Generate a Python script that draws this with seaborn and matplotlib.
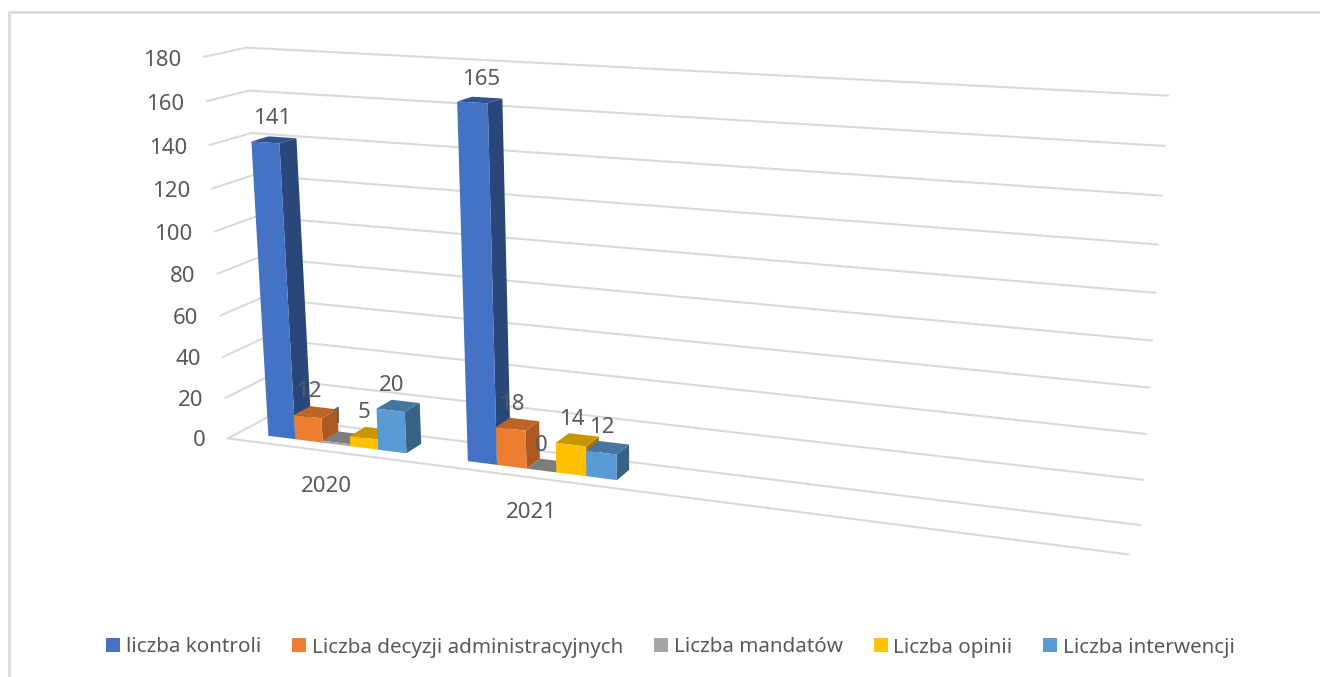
import numpy as np
import pandas as pd
import seaborn as sns
import matplotlib
matplotlib.use("Agg")
import matplotlib.pyplot as plt
import matplotlib.transforms as mtransforms
from matplotlib.patches import Polygon, Rectangle
from matplotlib.colors import to_rgb

# ---- data ----
years = ["2020", "2021"]
series = ["liczba kontroli", "Liczba decyzji administracyjnych", "Liczba mandatów",
          "Liczba opinii", "Liczba interwencji"]
liczba_kontroli = [141, 165]
liczba_decyzji = [12, 18]
liczba_mandatow = [1, 0]
liczba_opinii = [5, 14]
liczba_interwencji = [20, 12]
y_ticks = [0, 20, 40, 60, 80, 100, 120, 140, 160, 180]
colors = ["#4472C4", "#ED7D31", "#A5A5A5", "#FFC000", "#5B9BD5"]
side_shade = [0.62, 0.72, 0.62, 0.62, 0.63]
top_shade = [0.72, 0.80, 0.76, 0.78, 0.76]

W, H = 1320, 677
TEXT = "#595959"
GRID = "#D9D9D9"
Z0, Z1 = 0.29, 0.71      # bar front / back inside the floor depth
XL, XR = -0.5, 3.5       # category range

# ---- camera: world (category, value, depth) -> image pixel, least-squares fit ----
camera_world = np.array([
    (-.5, 0, 0), (-.5, 180, 0), (3.5, 0, 0), (-.5, 0, 1), (-.5, 180, 1), (3.5, 0, 1), (3.5, 180, 1),
    (-.35, 141, Z0), (-.21, 141, Z0), (-.35, 0, Z0), (-.21, 0, Z0), (-.07, 0, Z0),
    (-.07, 12, Z0), (.35, 20, Z0), (.35, 0, Z0), (.65, 165, Z0), (.79, 165, Z0),
    (.65, 0, Z0), (.93, 0, Z0), (1.35, 0, Z0), (1.35, 12, Z0),
    (-.21, 141, Z1), (-.07, 12, Z1), (-.07, 0, Z1), (.35, 20, Z1), (.35, 0, Z1),
    (.79, 165, Z1), (1.35, 12, Z1), (1.35, 0, Z1)], float)
camera_image = np.array([
    (227, 439), (202, 57), (1128, 556), (268, 418), (247, 46.5), (1141, 524), (1168, 96),
    (252, 142), (280, 143), (268, 436), (296, 439), (323, 442),
    (323, 417), (406, 413), (406, 453), (458, 102), (488, 103),
    (468, 461), (527, 468), (617, 479), (617, 453),
    (296, 138), (338, 412), (338, 432), (419, 403), (420, 445),
    (502, 99), (628, 445), (628, 470)], float)


def fit_camera(world, image):
    s = np.array([1.0, 0.01, 1.0])
    rows = []
    for (a, b, c), (u, v) in zip(world * s, image / 1000.0):
        rows.append([a, b, c, 1, 0, 0, 0, 0, -u * a, -u * b, -u * c, -u])
        rows.append([0, 0, 0, 0, a, b, c, 1, -v * a, -v * b, -v * c, -v])
    p = np.linalg.svd(np.array(rows))[2][-1].reshape(3, 4)
    return p


CAM = fit_camera(camera_world, camera_image)


def project(x, v, z):
    x, v, z = np.asarray(x, float), np.asarray(v, float), np.broadcast_to(z, np.shape(x))
    q = CAM @ np.vstack([x, v * 0.01, z, np.ones_like(x)])
    return np.column_stack([1000 * q[0] / q[2], H - 1000 * q[1] / q[2]])


class Plane(mtransforms.Transform):
    """Maps (category position, value) at a given depth to display pixels."""
    input_dims = output_dims = 2
    is_separable = False
    has_inverse = False

    def __init__(self, z):
        super().__init__()
        self.z = z

    def transform_non_affine(self, values):
        values = np.asarray(values, float)
        return project(values[:, 0], values[:, 1], self.z)


# ---- figure ----
sns.set_theme(style="white")
plt.rcParams["font.family"] = ["Noto Sans", "DejaVu Sans"]
fig = plt.figure(figsize=(W / 100, H / 100), dpi=100)
ax = fig.add_axes([0, 0, 1, 1])

df = pd.DataFrame({
    "rok": years * len(series),
    "seria": np.repeat(series, len(years)),
    "wartosc": liczba_kontroli + liczba_decyzji + liczba_mandatow + liczba_opinii + liczba_interwencji,
})
sns.barplot(data=df, x="rok", y="wartosc", hue="seria", hue_order=series, order=years + ["", " "],
            palette=colors, saturation=1, width=0.7, gap=0, errorbar=None, ax=ax, linewidth=0)
ax.set_xlim(XL, XR)
ax.set_ylim(0, 180)
ax.set_axis_off()

front, back = Plane(Z0), Plane(Z1)
wall_front, wall_back = Plane(0), Plane(1)
LABEL_SIZE = 16

# gridlines: side wall + back wall
for t in y_ticks:
    ax.plot([XL, XR], [t, t], transform=wall_back, color=GRID, lw=1.5, zorder=1, clip_on=False)
    px = np.vstack([project([XL], [t], 0), project([XL], [t], 1)])
    ax.plot(px[:, 0], px[:, 1], transform=mtransforms.IdentityTransform(), color=GRID, lw=1.5,
            zorder=1, clip_on=False)
    ax.annotate(str(t), xy=(XL, t), xycoords=wall_front, xytext=(-22, -2 - t * 0.01),
                textcoords="offset pixels",
                ha="right", va="center", fontsize=LABEL_SIZE, color=TEXT, zorder=50)
ax.plot([XL, XR], [0, 0], transform=wall_front, color=GRID, lw=1.5, zorder=1, clip_on=False)

# bars: seaborn's rectangles are put on the front plane, sides and tops follow them
bars = [(r, i) for i, cont in enumerate(ax.containers) for r in cont]
bars.sort(key=lambda b: b[0].get_x())
for k, (r, i) in enumerate(bars):
    x0, x1, h = r.get_x(), r.get_x() + r.get_width(), r.get_height()
    rgb = np.array(to_rgb(colors[i]))
    side = np.vstack([project([x1, x1], [0, h], Z0), project([x1, x1], [h, 0], Z1)])
    top = np.vstack([project([x0, x1], [h, h], Z0), project([x1, x0], [h, h], Z1)])
    ax.add_patch(Polygon(side, closed=True, transform=mtransforms.IdentityTransform(),
                         fc=rgb * side_shade[i], ec="none", zorder=10 + k, clip_on=False))
    ax.add_patch(Polygon(top, closed=True, transform=mtransforms.IdentityTransform(),
                         fc=rgb * top_shade[i], ec="none", zorder=10 + k, clip_on=False))
    r.set_transform(front)
    r.set_clip_on(False)
    r.set_zorder(10.5 + k)
    ax.annotate(f"{h:.0f}", xy=(x0 + r.get_width() / 2, h), xycoords=front,
                xytext=(h * 0.05, 25 - h * 0.01), textcoords="offset pixels",
                ha="center", va="center", fontsize=LABEL_SIZE, color=TEXT, zorder=60)

# category labels
for i, y in enumerate(years):
    ax.annotate(y, xy=(i, 0), xycoords=front, xytext=(-10.5, -42), textcoords="offset pixels",
                ha="center", va="center", fontsize=LABEL_SIZE, color=TEXT, zorder=50)

# legend
sns.move_legend(ax, "center", bbox_to_anchor=(670.5 / W, 1 - 647.5 / H), ncol=5, title=None, frameon=False,
                fontsize=14.85, handlelength=0.68, handleheight=0.68, handletextpad=0.28,
                columnspacing=1.5, labelcolor=TEXT, borderpad=0)

# outer frame of the pasted picture
fig.add_artist(Rectangle((8.5 / W, -0.1), 1.1, 1.1 - 12.3 / H, transform=fig.transFigure,
                         fc="none", ec=GRID, lw=2))

fig.savefig("out.png", dpi=100)
